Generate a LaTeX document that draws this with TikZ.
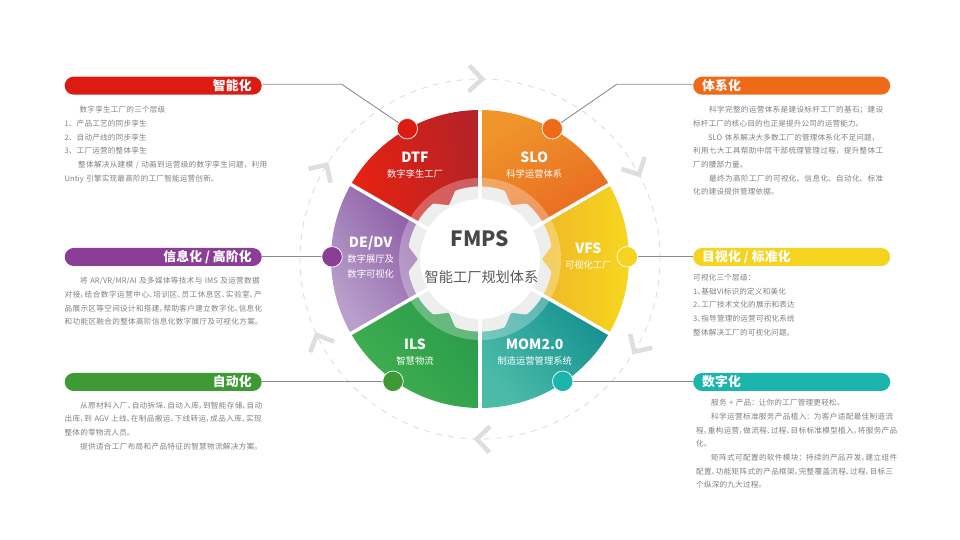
\documentclass[tikz,border=0pt]{standalone}
\usepackage{fontspec}
\setmainfont[RawFeature=+palt]{Noto Sans CJK SC}
\newfontfamily\fwfont{Noto Sans CJK SC}
\XeTeXlinebreaklocale "zh"
\XeTeXlinebreakskip=0.2pt plus 4pt minus 0.5pt
\newcommand\jl[3]{{\leftskip=#1pt \rightskip=\dimexpr 240pt-#2pt\relax \parfillskip=0pt \noindent #3\par}}
\newcommand\pl[2]{{\leftskip=#1pt \rightskip=0pt \parfillskip=0pt plus 1fil \noindent #2\par}}
\newcommand\fwc{{\fwfont ：}}
\definecolor{cred}{HTML}{DC1C13}
\definecolor{cpur}{HTML}{8B3E96}
\definecolor{cgrn}{HTML}{3E9A35}
\definecolor{cora}{HTML}{EE6A19}
\definecolor{cyel}{HTML}{F5D31E}
\definecolor{ctea}{HTML}{1BB5AC}
\definecolor{body}{HTML}{808080}
\definecolor{linec}{HTML}{8C8C8C}
\definecolor{chevc}{HTML}{DCDFDC}
\definecolor{dashc}{HTML}{DDDDDD}
\definecolor{gearc}{HTML}{EEEEEE}
\definecolor{dtfa}{HTML}{B52227}\definecolor{dtfb}{HTML}{EA2210}
\definecolor{sloa}{HTML}{E8601F}\definecolor{slob}{HTML}{EF952B}
\definecolor{vfsa}{HTML}{F6D91D}\definecolor{vfsb}{HTML}{EDA22F}
\definecolor{moma}{HTML}{0C8A8D}\definecolor{momb}{HTML}{4BBBA8}
\definecolor{ilsa}{HTML}{24984A}\definecolor{ilsb}{HTML}{42AF50}
\definecolor{dea}{HTML}{7A4296}\definecolor{deb}{HTML}{B9A0CC}
\tikzset{
  pill/.style={fill=#1,rounded corners=9pt,minimum height=18pt,text=white,font=\fontsize{12.8}{13}\selectfont\bfseries,inner ysep=0pt,anchor=west},
  pillL/.style={pill=#1,text width=177pt,inner xsep=10pt,align=flush right},
  pillR/.style={pill=#1,text width=179pt,inner xsep=9pt,align=flush left},
  dotn/.style={circle,fill=#1,draw=white,line width=0.7pt,minimum size=20.5pt,inner sep=0pt},
  conn/.style={draw=linec,line width=0.9pt},
  blocktext/.style={anchor=north west,inner sep=0pt,text width=240pt,text=body,font=\fontsize{7.6}{13.7}\selectfont},
  seclabel/.style={text=white,align=center,inner sep=0pt,font=\fontsize{9.3}{15}\selectfont},
  chev/.style={draw=chevc,line width=4.6pt,miter limit=10},
}
\newcommand\sectitle[1]{{\fontsize{14}{15}\selectfont\bfseries #1}}
\begin{document}
\begin{tikzpicture}[x=1pt,y=1pt]
\useasboundingbox (0,0) rectangle (960,540);
\begin{scope}[shift={(480,281)}]
  % outer dashed orbit and chevrons
  \draw[dashc,line width=0.9pt,dash pattern=on 6pt off 6pt] (0,0) circle[radius=180];
  \foreach \t in {88.4,27,-32,-92,204,147.5}{
    \begin{scope}[shift={(\t:180)},rotate=\t-90]
      \draw[chev] (-16,13) -- (-3,0) -- (-16,-13);
    \end{scope}
  }
  % sectors
  \shade[top color=dtfa,bottom color=dtfb,shading angle=-75]
    (0,0) -- (90:149) arc[start angle=90,end angle=150,radius=149] -- cycle;
  \shade[top color=sloa,bottom color=slob,shading angle=-150]
    (0,0) -- (30:149) arc[start angle=30,end angle=90,radius=149] -- cycle;
  \shade[top color=vfsa,bottom color=vfsb,shading angle=-90]
    (0,0) -- (-30:149) arc[start angle=-30,end angle=30,radius=149] -- cycle;
  \shade[top color=moma,bottom color=momb,shading angle=-50]
    (0,0) -- (-90:149) arc[start angle=-90,end angle=-30,radius=149] -- cycle;
  \shade[top color=ilsa,bottom color=ilsb,shading angle=-50]
    (0,0) -- (210:149) arc[start angle=210,end angle=270,radius=149] -- cycle;
  \shade[top color=dea,bottom color=deb,shading angle=-55]
    (0,0) -- (150:149) arc[start angle=150,end angle=210,radius=149] -- cycle;
  % ring, gear, gaps, hub
  \fill[white,opacity=0.28] (0,0) circle[radius=81];
  \fill[gearc,rounded corners=1pt] (60:62)
    \foreach \a in {90,150,210,270,330,390}{
      -- (\a-20:72.5) arc[start angle=\a-20,end angle=\a+20,radius=72.5] -- (\a+30:62)
    } -- cycle;
  \foreach \a in {30,90,150,210,270,330}
    \draw[white,line width=3.4pt] (0,0) -- (\a:152);
  \fill[white] (0,0) circle[radius=60];
  \node (hubA) at (0,20) [text=black!72,inner sep=0pt,font=\fontsize{21}{21}\selectfont\bfseries] {FMPS};
  \node (hubB) at (1.5,-17.7) [text=black!65,inner sep=0pt,font=\fontsize{14.2}{14.2}\selectfont] {智能工厂规划体系};
\end{scope}
% sector labels
\node[seclabel] (sDTF) at (415,375) {\sectitle{DTF}\\数字孪生工厂};
\node[seclabel] (sSLO) at (534.3,375) {\sectitle{SLO}\\科学运营体系};
\node[seclabel] (sDE) at (370.7,283) {\sectitle{DE/DV}\\数字展厅及\\数字可视化};
\node[seclabel] (sVFS) at (588.3,284) {\sectitle{VFS}\\可视化工厂};
\node[seclabel] (sILS) at (415,187.5) {\sectitle{ILS}\\智慧物流};
\node[seclabel] (sMOM) at (534.7,187.5) {\sectitle{MOM2.0}\\制造运营管理系统};
% pills
\node[pillL=cred] (p1) at (64.5,454.3) {智能化};
\node[pillL=cpur] (p2) at (64.5,283) {信息化 / 高阶化};
\node[pillL=cgrn] (p3) at (64.5,158) {自动化};
\node[pillR=cora] (p4) at (693,454.3) {体系化};
\node[pillR=cyel] (p5) at (693,283) {目视化 / 标准化};
\node[pillR=ctea] (p6) at (693,158) {数字化};
% connectors
\coordinate (d1) at (407.3,411.3);
\coordinate (d4) at (552.3,411.3);
\coordinate (d2) at (332,283.2);
\coordinate (d5) at (627.3,283.2);
\coordinate (d3) at (393,158.7);
\coordinate (d6) at (562.7,158.7);
\coordinate (e1) at (341.7,455.7);
\coordinate (e4) at (616.7,455.7);
\draw[conn] (p1.east |- e1) -- (e1) -- (d1);
\draw[conn] (p4.west |- e4) -- (e4) -- (d4);
\draw[conn] (p2.east |- d2) -- (d2);
\draw[conn] (p5.west |- d5) -- (d5);
\draw[conn] (p3.east |- d3) -- (d3);
\draw[conn] (p6.west |- d6) -- (d6);
\node[dotn=cred] (n1) at (d1) {};
\node[dotn=cora] (n4) at (d4) {};
\node[dotn=cpur] (n2) at (d2) {};
\node[dotn=cyel] (n5) at (d5) {};
\node[dotn=cgrn] (n3) at (d3) {};
\node[dotn=ctea] (n6) at (d6) {};
% text blocks
\node[blocktext] (t1) at (64.5,434) {\fwfont
\pl{15}{数字孪生工厂的三个层级}
\pl{0}{1、产品工艺的同步孪生}
\pl{0}{2、自动产线的同步孪生}
\pl{0}{3、工厂运营的整体孪生}
\jl{13.5}{202.5}{整体解决从建模 / 动画到运营级的数字孪生问题，利用}
\pl{0}{Untiy 引擎实现最高阶的工厂智能运营创新。}};
\node[blocktext] (t2) at (64.5,263) {%
\jl{15.5}{195}{将 AR/VR/MR/AI 及多媒体等技术与 IMS 及运营数据}
\jl{0}{197}{对接，结合数字运营中心、培训区、员工休息区、实验室、产}
\jl{0}{197.5}{品展示区等空间设计和搭建，帮助客户建立数字化、信息化}
\jl{0}{194}{和功能区融合的整体高阶信息化数字展厅及可视化方案。}};
\node[blocktext] (t3) at (64.5,138.5) {%
\jl{15.5}{197.5}{从原材料入厂、自动拆垛、自动入库，到智能存储、自动}
\jl{0}{197}{出库，到 AGV 上线、在制品搬运、下线转运，成品入库、实现}
\pl{0}{整体的零物流人员。}
\jl{15.5}{193.5}{提供适合工厂布局和产品特征的智慧物流解决方案。}};
\node[blocktext] (t4) at (693,434) {\fwfont
\jl{16}{190}{科学完整的运营体系是建设标杆工厂的基石；建设}
\jl{0}{170}{标杆工厂的核心目的也正是提升公司的运营能力。}
\jl{15}{186}{SLO 体系解决大多数工厂的管理体系化不足问题，}
\jl{0}{190}{利用七大工具帮助中层干部梳理管理过程，提升整体工}
\pl{0}{厂的腰部力量。}
\jl{16}{190}{最终为高阶工厂的可视化、信息化、自动化、标准}
\pl{0}{化的建设提供管理依据。}};
\node[blocktext] (t5) at (693,266) {%
\pl{0}{可视化三个层级：}
\pl{0}{1、基础VI标识的定义和美化}
\pl{0}{2、工厂技术文化的展示和表达}
\pl{0}{3、指导管理的运营可视化系统}
\pl{0}{整体解决工厂的可视化问题。}};
\node[blocktext] (t6) at (696,141) {%
\pl{15}{服务 + 产品\fwc 让你的工厂管理更轻松。}
\jl{15}{197}{科学运营标准服务产品植入\fwc 为客户适配最佳制造流}
\jl{0}{201}{程，重构运营，做流程、过程、目标标准模型植入，将服务产品}
\pl{0}{化。}
\jl{15}{201}{矩阵式可配置的软件模块\fwc 持续的产品开发，建立组件}
\jl{0}{197}{配置、功能矩阵式的产品框架，完整覆盖流程、过程、目标三}
\pl{0}{个纵深的九大过程。}};
\end{tikzpicture}
\end{document}
